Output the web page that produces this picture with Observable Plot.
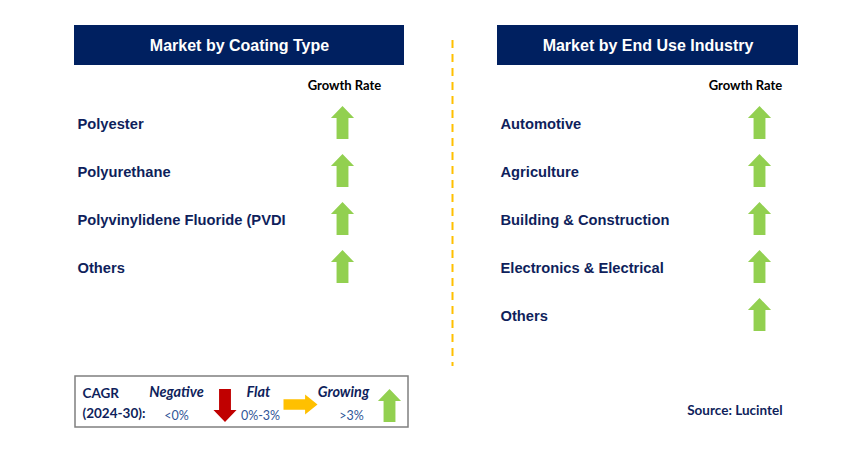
<!DOCTYPE html>
<html>
<head>
<meta charset="utf-8">
<script src="https://cdn.jsdelivr.net/npm/d3@7"></script>
<script src="https://cdn.jsdelivr.net/npm/@observablehq/plot@0.6"></script>
<style>
  html, body { margin: 0; padding: 0; background: #ffffff; }
  #chart svg { display: block; }
</style>
</head>
<body>
<div id="chart"></div>
<script>
// ---- Data ----
const panelTitles = ["Market by Coating Type", "Market by End Use Industry"];
const growthHeader = "Growth Rate";
const coatingTypes = ["Polyester", "Polyurethane", "Polyvinylidene Fluoride (PVDI", "Others"];
const coatingGrowth = ["Growing", "Growing", "Growing", "Growing"];
const endUseIndustries = ["Automotive", "Agriculture", "Building & Construction", "Electronics & Electrical", "Others"];
const endUseGrowth = ["Growing", "Growing", "Growing", "Growing", "Growing"];
const legendLabels = ["Negative", "Flat", "Growing"];
const legendRanges = ["<0%", "0%-3%", ">3%"];
const legendTitle = ["CAGR", "(2024-30):"];
const sourceText = "Source: Lucintel";

// ---- Styles / layout ----
const NAVY = "#002060";
const TEXT_NAVY = "#0f1f5c";
const GREEN = "#92D050";
const RED = "#C00000";
const YELLOW = "#FFC000";
const ARIAL = "Liberation Sans, Arial, sans-serif";
const CALIBRI = "Lato, Open Sans, sans-serif";

function arrowSymbol(dir) {
  return {
    draw(ctx, size) {
      const r = Math.sqrt(size / Math.PI);
      const w = 0.7 * r, hb = -0.27 * r, s = 0.36 * r;
      let pts = [[0, -r], [w, hb], [s, hb], [s, r], [-s, r], [-s, hb], [-w, hb]];
      if (dir === "down") pts = pts.map(([x, y]) => [x, -y]);
      if (dir === "right") pts = pts.map(([x, y]) => [-y, x * 0.85]);
      ctx.moveTo(pts[0][0], pts[0][1]);
      for (let i = 1; i < pts.length; i++) ctx.lineTo(pts[i][0], pts[i][1]);
      ctx.closePath();
    }
  };
}
const dirOf = {Growing: "up", Negative: "down", Flat: "right"};
const colorOf = {Growing: GREEN, Negative: RED, Flat: YELLOW};

const panels = [
  {x1: 74, x2: 404, labelX: 77, arrowX: 342, growthX: 344, items: coatingTypes, growth: coatingGrowth},
  {x1: 497, x2: 798, labelX: 500, arrowX: 759, growthX: 745, items: endUseIndustries, growth: endUseGrowth}
];
const rowTop = 124, rowStep = 48;

const headers = panels.map((p, i) => ({x1: p.x1, x2: p.x2, y1: 25, y2: 65, title: panelTitles[i], cx: (p.x1 + p.x2) / 2}));
const rows = panels.flatMap(p => p.items.map((name, i) => ({
  name, growth: p.growth[i], x: p.labelX, ax: p.arrowX, y: rowTop + i * rowStep
})));
const growthHeads = panels.map(p => ({x: p.growthX, y: 85, text: growthHeader}));

const legendX = [176, 258, 343];
const legendRangeX = [176, 260, 351];
const legendArrowPos = [[224.5, 405, 16.5], [300, 404, 17], [389, 405, 16.5]];
const legendItems = legendLabels.map((l, i) => ({
  label: l, range: legendRanges[i], lx: legendX[i], rx: legendRangeX[i],
  ax: legendArrowPos[i][0], ay: legendArrowPos[i][1], r: legendArrowPos[i][2]
}));

const arrows = [
  ...rows.map(d => ({x: d.ax, y: d.y - 2, r: 16.5, kind: d.growth})),
  ...legendItems.map(d => ({x: d.ax, y: d.ay, r: d.r, kind: d.label}))
];

const plot = Plot.plot({
  width: 862,
  height: 460,
  margin: 0,
  x: {domain: [0, 862], range: [0, 862], axis: null},
  y: {domain: [0, 460], range: [0, 460], axis: null},
  r: {type: "identity"},
  style: {background: "#ffffff"},
  marks: [
    // headers
    Plot.rect(headers, {x1: "x1", x2: "x2", y1: "y1", y2: "y2", fill: NAVY}),
    Plot.text(headers, {x: "cx", y: 45, text: "title", fill: "#ffffff", fontSize: 16, fontWeight: "bold", fontFamily: ARIAL}),
    // growth rate headers
    Plot.text(growthHeads, {x: "x", y: "y", text: "text", fill: "#000000", fontSize: 13, fontWeight: "bold", fontFamily: CALIBRI}),
    // divider
    Plot.ruleX([452], {y1: 40, y2: 366, stroke: YELLOW, strokeWidth: 2, strokeDasharray: "8,6"}),
    // row labels
    Plot.text(rows, {x: "x", y: "y", text: "name", textAnchor: "start", fill: TEXT_NAVY, fontSize: 14.7, fontWeight: "bold", fontFamily: ARIAL}),
    // arrows
    ...["up", "down", "right"].map(dir => Plot.dot(arrows.filter(a => dirOf[a.kind] === dir), {
      x: "x", y: "y", r: "r", symbol: arrowSymbol(dir), fill: a => colorOf[a.kind], stroke: null
    })),
    // legend box
    Plot.rect([{x1: 75, x2: 408, y1: 376, y2: 427}], {x1: "x1", x2: "x2", y1: "y1", y2: "y2", fill: "none", stroke: "#7f7f7f", strokeWidth: 1.5}),
    Plot.text(legendTitle.map((t, i) => ({t, y: 393 + i * 20.5})), {x: 82, y: "y", text: "t", textAnchor: "start", fill: TEXT_NAVY, fontSize: 13.5, fontWeight: "bold", fontFamily: CALIBRI}),
    Plot.text(legendItems, {x: "lx", y: 392, text: "label", fill: TEXT_NAVY, fontSize: 14.5, fontWeight: "bold", fontStyle: "italic", fontFamily: CALIBRI}),
    Plot.text(legendItems, {x: "rx", y: 415, text: "range", fill: "#2f5597", fontSize: 12.5, fontFamily: CALIBRI}),
    // source
    Plot.text([sourceText], {x: 782, y: 410, text: d => d, textAnchor: "end", fill: TEXT_NAVY, fontSize: 13.5, fontWeight: "bold", fontFamily: CALIBRI})
  ]
});
document.getElementById("chart").appendChild(plot);
</script>
</body>
</html>
